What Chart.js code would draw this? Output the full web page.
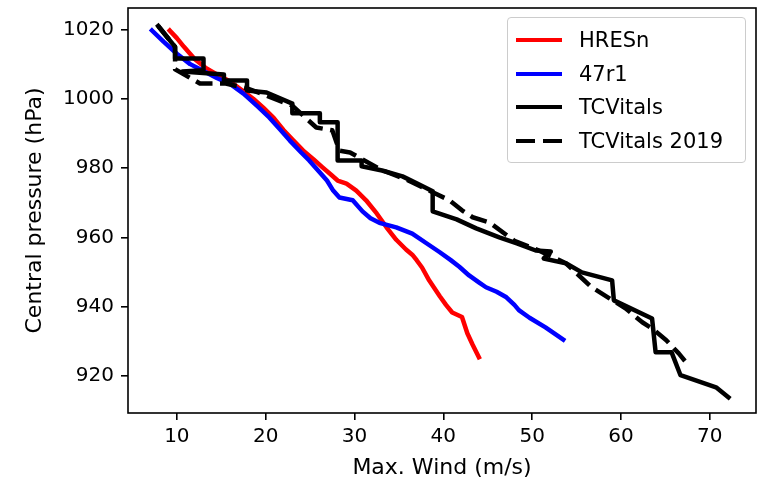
<!DOCTYPE html>
<html><head><meta charset="utf-8">
<script src="https://cdn.jsdelivr.net/npm/chart.js@4.4.0/dist/chart.umd.min.js"></script>
<style>
html,body{margin:0;padding:0;background:#fff;}
#wrap{position:relative;width:762px;height:486px;overflow:hidden;}
canvas{display:block;}
.lg{position:absolute;font-family:'DejaVu Sans';font-size:21px;color:#000;white-space:nowrap;line-height:26px;height:26px;}
.sw{position:absolute;height:4.5px;width:46px;left:516px;}
#lgbox{position:absolute;left:507px;top:17px;width:237px;height:144px;border:1px solid #cccccc;border-radius:4px;background:rgba(255,255,255,0.8);}
</style></head>
<body><div id="wrap"><canvas id="c" width="762" height="486"></canvas>
<div id="lgbox"></div>
</div>
<script>
// ---- data ----
const xTicks = [10, 20, 30, 40, 50, 60, 70];
const yTicks = [920, 940, 960, 980, 1000, 1020];

const seriesNames = ['HRESn', '47r1', 'TCVitals', 'TCVitals 2019'];

const windHRES = [9.2,10.0,10.8,12.0,13.2,14.5,16.0,17.3,18.6,19.7,20.9,22.0,23.1,24.2,25.4,26.4,27.4,28.1,29.1,30.2,31.3,32.5,33.6,34.7,35.8,36.5,37.0,37.6,38.4,39.6,40.3,41.0,42.1,42.7,43.3,44.0];
const presHRES = [1019.7,1017.5,1015,1011.5,1009,1007,1005,1002.5,1000,997.5,994.5,991,988,985.1,982.5,980.2,978,976.4,975.5,973.5,970.7,966.9,962.9,959.3,956.5,955,953.4,951.3,947.6,943,940.5,938.3,937,932.3,929,925.4];

const wind47r1 = [7.2,8.5,10.0,11.5,13.0,14.5,16.0,17.5,19.0,20.4,21.5,22.7,24.0,24.9,26.0,26.9,27.6,28.3,29.8,30.9,31.8,32.8,34.7,36.5,38.1,39.6,40.8,41.8,42.9,44.0,44.8,46.0,47.1,48.0,48.5,49.7,51.5,53.5];
const pres47r1 = [1019.7,1016.5,1013,1010,1008,1006,1004.3,1001.5,998,994.6,991.5,988,984.5,982.2,979,976.4,973.5,971.5,970.7,967.5,965.5,964.2,962.9,961.1,958.3,955.7,953.5,951.5,949,947,945.6,944.3,942.7,940.5,939,936.8,934,930.5];

const windTC = [7.9,9.8,9.8,13.0,13.0,10.6,15.3,15.3,17.9,17.9,20.1,23.0,23.0,26.1,26.1,28.1,28.1,30.8,30.8,33.1,35.4,37.0,38.8,38.8,41.5,43.7,46.3,48.2,50.4,52.1,51.3,53.8,55.6,59.0,59.2,63.5,63.9,65.7,66.7,70.7,72.1];
const presTC = [1021,1015,1011.6,1011.6,1008.2,1007.9,1007,1005.3,1005.3,1002.4,1001.8,998.6,995.8,995.8,993.2,993.2,982.2,982.2,980.5,979.3,977.6,975.6,973.3,967.5,965.2,962.6,960,958.3,956.2,955.9,953.9,952.5,949.9,947.6,941.8,936.6,926.8,926.8,920.2,916.7,913.8];

const windTC2019 = [7.9,9.8,9.8,12.6,15.5,17.9,20.0,23.0,25.7,27.5,28.3,29.5,33.0,36.0,38.8,40.7,42.1,43.3,45.2,48.0,50.5,53.8,56.7,58.7,60.5,62.4,63.5,65.1,66.5,67.3];
const presTC2019 = [1021,1015,1008.5,1004.4,1004.4,1003,1001,998,991.7,990.9,985,984.5,979.5,976.5,973,970.7,967.8,965.8,964.3,959,956.5,952.5,945.6,942.4,939.5,935.5,933.7,930.3,926.5,924];

// ---- build ----
function pts(xs, ys){ return xs.map((x,i)=>({x:x, y:ys[i]})); }
const colors = ['#ff0000', '#0000ff', '#000000', '#000000'];
const dashes = [[], [], [], [17, 7.5]];
const allData = [[windHRES,presHRES],[wind47r1,pres47r1],[windTC,presTC],[windTC2019,presTC2019]];
const datasets = allData.map((d,i)=>({
  label: seriesNames[i],
  data: pts(d[0], d[1]),
  showLine: true,
  borderColor: colors[i],
  backgroundColor: colors[i],
  borderWidth: 4.5,
  borderDash: dashes[i],
  borderCapStyle: i === 3 ? 'butt' : 'square',
  borderJoinStyle: 'round',
  pointRadius: 0,
  tension: 0,
  fill: false,
  order: 4 - i
}));

const FONT = "'DejaVu Sans'";
const framePlugin = {
  id: 'frame',
  afterDraw(chart){
    const a = chart.chartArea, ctx = chart.ctx;
    ctx.save();
    ctx.strokeStyle = '#000';
    ctx.lineWidth = 1.6;
    ctx.strokeRect(a.left, a.top, a.right - a.left, a.bottom - a.top);
    ctx.restore();
  }
};

new Chart(document.getElementById('c'), {
  type: 'scatter',
  data: { datasets: datasets },
  options: {
    responsive: false, animation: false, devicePixelRatio: 1,
    layout: { padding: { top: 8, right: 6, left: 0, bottom: 0 } },
    plugins: { legend: { display: false }, tooltip: { enabled: false } },
    scales: {
      x: {
        type: 'linear', min: 4.5, max: 75.2,
        afterBuildTicks: s => { s.ticks = xTicks.map(v => ({ value: v })); },
        afterFit: s => { s.height = 73; s.paddingLeft = 0; s.paddingRight = 0; },
        grid: { display: true, drawOnChartArea: false, drawTicks: true, tickLength: 7, tickColor: '#000', color: '#000', lineWidth: 1.6 },
        border: { display: false },
        ticks: { font: { family: FONT, size: 20 }, color: '#000', padding: 5, maxRotation: 0, autoSkip: false, callback: v => String(v) },
        title: { display: true, text: 'Max. Wind (m/s)', font: { family: FONT, size: 22 }, color: '#000', padding: { top: 0, bottom: 5 } }
      },
      y: {
        type: 'linear', min: 909.3, max: 1026.2,
        afterBuildTicks: s => { s.ticks = yTicks.map(v => ({ value: v })); },
        afterFit: s => { s.width = 128; s.paddingTop = 0; s.paddingBottom = 0; },
        grid: { display: true, drawOnChartArea: false, drawTicks: true, tickLength: 7, tickColor: '#000', color: '#000', lineWidth: 1.6 },
        border: { display: false },
        ticks: { font: { family: FONT, size: 20 }, color: '#000', padding: 7, autoSkip: false, callback: v => String(v) },
        title: { display: true, text: 'Central pressure (hPa)', font: { family: FONT, size: 22 }, color: '#000', padding: { top: 22, bottom: 0 } }
      }
    }
  },
  plugins: [framePlugin]
});

// ---- legend (HTML text) ----
const wrap = document.getElementById('wrap');
const rowY = [40, 74, 107, 141];
seriesNames.forEach((name, i) => {
  const sw = document.createElement('div');
  sw.className = 'sw';
  sw.style.top = (rowY[i] - 2.25) + 'px';
  if (dashes[i].length) {
    sw.style.background = 'repeating-linear-gradient(to right, #000 0px, #000 19px, transparent 19px, transparent 27px)';
  } else {
    sw.style.background = colors[i];
  }
  wrap.appendChild(sw);
  const t = document.createElement('div');
  t.className = 'lg';
  t.style.left = '579px';
  t.style.top = (rowY[i] - 13) + 'px';
  t.textContent = name;
  wrap.appendChild(t);
});
</script>
</body></html>
